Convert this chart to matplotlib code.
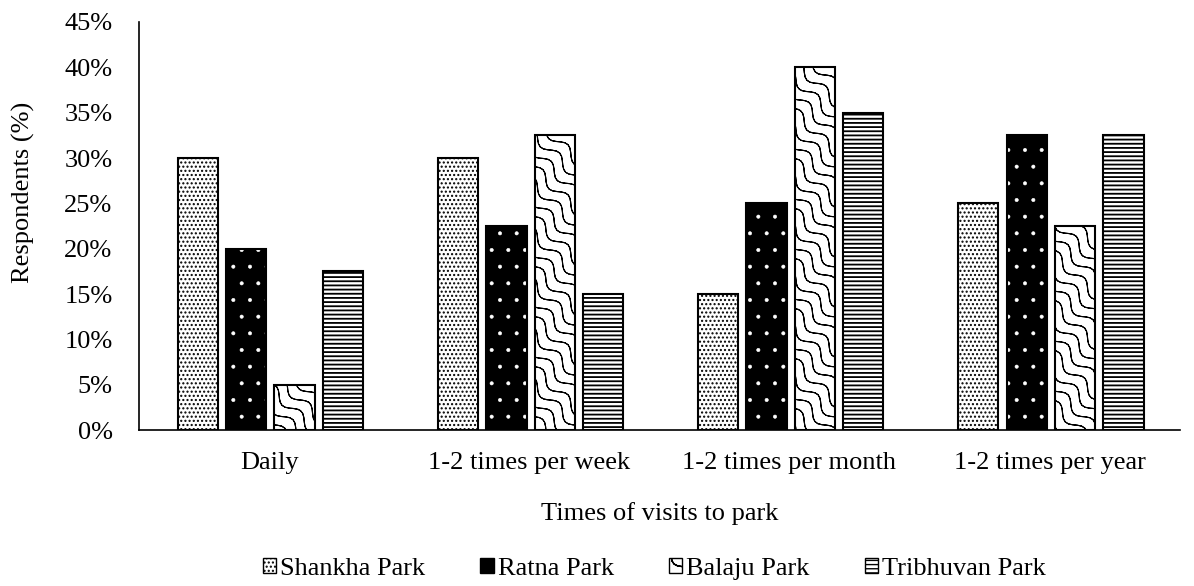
import warnings
import numpy as np
import matplotlib
matplotlib.use('Agg')
import matplotlib.pyplot as plt
from matplotlib import hatch as mhatch
from matplotlib.path import Path
from matplotlib.patches import Patch
from matplotlib.ticker import PercentFormatter

warnings.filterwarnings('ignore')

categories = ['Daily', '1-2 times per week', '1-2 times per month', '1-2 times per year']
parks = ['Shankha Park', 'Ratna Park', 'Balaju Park', 'Tribhuvan Park']
shankha = [0.30, 0.30, 0.15, 0.25]
ratna = [0.20, 0.225, 0.25, 0.325]
balaju = [0.05, 0.325, 0.40, 0.225]
tribhuvan = [0.175, 0.15, 0.35, 0.325]


# wavy diagonal hatch, triggered by 'w' in the hatch string.
# Agg fills hatch paths too, so each wave runs out and back on itself
# to enclose no area.
class WaveHatch(mhatch.HatchPatternBase):
    def __init__(self, hatch, density):
        self.num_lines = int(hatch.count('w') * density)
        self.num_pts = 60
        self.num_vertices = (self.num_lines + 1) * self.num_pts * 2 if self.num_lines else 0

    def set_vertices_and_codes(self, vertices, codes):
        steps = np.linspace(-0.5, 0.5, self.num_lines + 1)
        t = np.linspace(-0.25, 1.25, self.num_pts)
        t = np.concatenate([t, t[::-1]])
        amp = 0.4 / self.num_lines
        wave = amp * np.sin(2 * np.pi * 4 * t)
        n = len(t)
        for i, s in enumerate(steps):
            sl = slice(i * n, (i + 1) * n)
            vertices[sl, 0] = t + s + wave
            vertices[sl, 1] = 1 - t + s + wave
            codes[sl] = Path.LINETO
            codes[i * n] = Path.MOVETO


mhatch._hatch_types.append(WaveHatch)

plt.rcParams['font.family'] = ['Liberation Serif', 'DejaVu Serif']
FS = 19


def hatched_bar(ax, xs, vals, width, hlw, **kw):
    # hatch line width is read from rcParams when the patch is created
    with plt.rc_context({'hatch.linewidth': hlw}):
        return ax.bar(xs, vals, width, **kw)


fig = plt.figure(figsize=(11.94, 5.86), dpi=100)
ax = fig.add_axes([0.1164, 0.266, 0.8716, 0.6965])

x = np.arange(len(categories))
width = 0.155
step = 0.186
offs = [(i - 1.5) * step + 0.005 for i in range(4)]

hatched_bar(ax, x + offs[0], shankha, width, 1.0, facecolor='white',
            edgecolor='black', hatch='....', linewidth=1.5)
hatched_bar(ax, x + offs[1], ratna, width, 0.4, facecolor='black',
            edgecolor='white', hatch='.', linewidth=0)
ax.bar(x + offs[1], ratna, width, fill=False, edgecolor='black', linewidth=1.5)
hatched_bar(ax, x + offs[2], balaju, width, 0.8, facecolor='white',
            edgecolor='black', hatch='ww', linewidth=1.5)
hatched_bar(ax, x + offs[3], tribhuvan, width, 1.3, facecolor='white',
            edgecolor='black', hatch='----', linewidth=1.5)

ax.set_xlim(-0.5, 3.5)
ax.set_ylim(0, 0.45)
ax.set_yticks(np.arange(0, 0.451, 0.05))
ax.yaxis.set_major_formatter(PercentFormatter(1, decimals=0))
ax.set_xticks(x)
ax.set_xticklabels(categories)
ax.tick_params(axis='both', length=0, labelsize=FS, colors='black')
ax.tick_params(axis='x', pad=16)
ax.tick_params(axis='y', pad=19)

for side in ['top', 'right']:
    ax.spines[side].set_visible(False)
for side in ['left', 'bottom']:
    ax.spines[side].set_linewidth(1.2)
    ax.spines[side].set_color('black')

ax.set_xlabel('Times of visits to park', fontsize=FS)
ax.set_ylabel('Respondents (%)', fontsize=FS)
ax.xaxis.set_label_coords(0.5, -0.175)
ax.yaxis.set_label_coords(-0.1, 0.583)

with plt.rc_context({'hatch.linewidth': 0.8}):
    handles = [
        Patch(facecolor='white', edgecolor='black', hatch='....', linewidth=1),
        Patch(facecolor='black', edgecolor='black', linewidth=1),
        Patch(facecolor='white', edgecolor='black', hatch='ww', linewidth=1),
        Patch(facecolor='white', edgecolor='black', hatch='----', linewidth=1),
    ]
fig.legend(handles, parks, loc='center', bbox_to_anchor=(0.548, 0.029), ncol=4,
           frameon=False, fontsize=FS, handlelength=0.5, handleheight=0.5,
           handletextpad=0.15, columnspacing=2.1)

fig.savefig('out.png', dpi=100)
